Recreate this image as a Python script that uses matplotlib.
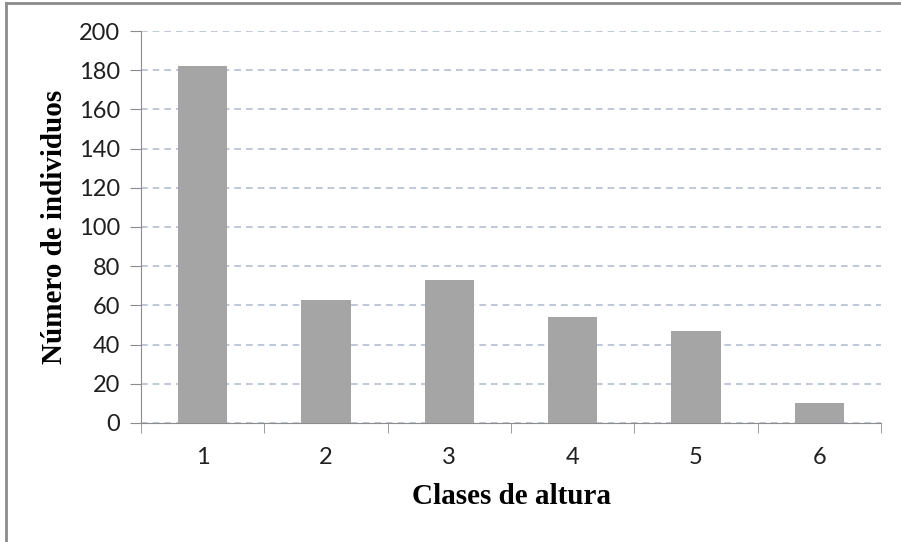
import matplotlib.pyplot as plt
from matplotlib.lines import Line2D

# Data
clases = ['1', '2', '3', '4', '5', '6']
individuos = [182, 63, 73, 54, 47, 10]

fig = plt.figure(figsize=(9.01, 5.42), dpi=100)
ax = fig.add_axes([0.1565, 0.2196, 0.8213, 0.7232])

pos = range(len(clases))
ax.bar(pos, individuos, width=0.4, color='#a5a5a5', zorder=3)

ax.set_xlim(-0.5, len(clases) - 0.5)
ax.set_ylim(0, 200)
ax.set_yticks(range(0, 201, 20))
ax.set_xticks(list(pos))
ax.set_xticklabels(clases)
ax.set_xticks([i - 0.5 for i in range(len(clases) + 1)], minor=True)

# grid and spines
ax.yaxis.grid(True, linestyle=(0, (4, 3)), color='#b4bfd2', linewidth=1.2, zorder=0)
ax.spines['top'].set_visible(False)
ax.spines['right'].set_visible(False)
ax.spines['left'].set_color('#8c8c8c')
ax.spines['bottom'].set_color('#8c8c8c')

tick_font = 'Lato'
ax.tick_params(axis='y', length=8, color='#8c8c8c', labelsize=17, pad=7)
ax.tick_params(axis='x', which='major', length=0, labelsize=17, pad=17)
ax.tick_params(axis='x', which='minor', length=7, color='#8c8c8c')
for lab in ax.get_xticklabels() + ax.get_yticklabels():
    lab.set_fontfamily(tick_font)
    lab.set_color('#202020')

ax.set_xlabel('Clases de altura', fontfamily='Liberation Serif', fontweight='bold',
              fontsize=21)
ax.set_ylabel('Número de individuos', fontfamily='Liberation Serif', fontweight='bold',
              fontsize=21)
ax.xaxis.set_label_coords(0.5, -0.153)
ax.yaxis.set_label_coords(-0.099, 0.5)

# partial outer frame (top and left edges only, as in the cropped original)
fig.add_artist(Line2D([0.0067, 1.0], [0.994, 0.994], transform=fig.transFigure,
                      color='#8c8c8c', linewidth=2))
fig.add_artist(Line2D([0.0067, 0.0067], [0.0, 0.994], transform=fig.transFigure,
                      color='#8c8c8c', linewidth=2))

plt.savefig('out.png', dpi=100)
